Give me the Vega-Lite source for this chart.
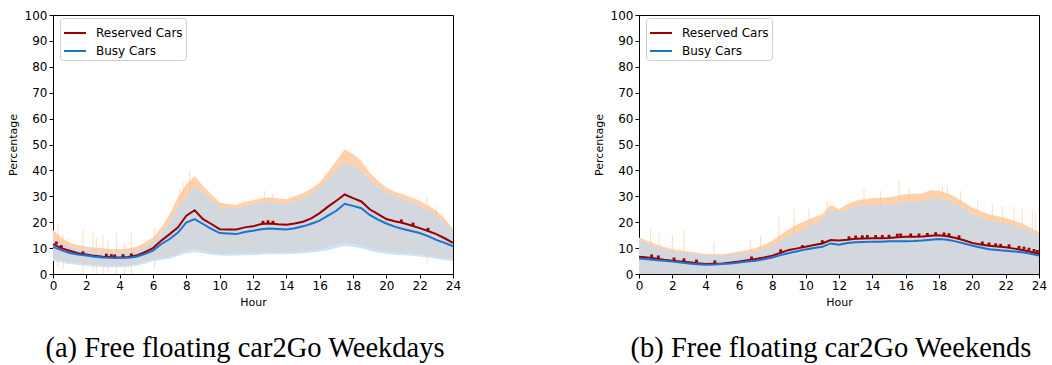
{
"$schema": "https://vega.github.io/schema/vega-lite/v6.json",
"padding": {"left": 6, "top": 8, "right": 0, "bottom": 0},
"background": "white",
"datasets": {
"wd": [
{"h":0,"resM":11.5,"busyM":10.5,"resHi":17.0,"busyHi":13.5,"resLo":5.8,"busyLo":5.0},
{"h":0.5,"resM":10.0,"busyM":9.2,"resHi":14.0,"busyHi":11.8,"resLo":5.2,"busyLo":4.4},
{"h":1,"resM":9.0,"busyM":8.1,"resHi":12.2,"busyHi":10.5,"resLo":4.6,"busyLo":3.9},
{"h":1.5,"resM":8.0,"busyM":7.5,"resHi":11.2,"busyHi":9.8,"resLo":4.2,"busyLo":3.5},
{"h":2,"resM":7.5,"busyM":7.1,"resHi":10.5,"busyHi":9.3,"resLo":3.9,"busyLo":3.2},
{"h":2.5,"resM":7.0,"busyM":6.7,"resHi":10.1,"busyHi":8.8,"resLo":3.6,"busyLo":2.9},
{"h":3,"resM":6.7,"busyM":6.4,"resHi":9.9,"busyHi":8.4,"resLo":3.4,"busyLo":2.7},
{"h":3.5,"resM":6.5,"busyM":6.3,"resHi":9.7,"busyHi":8.2,"resLo":3.2,"busyLo":2.6},
{"h":4,"resM":6.4,"busyM":6.2,"resHi":9.6,"busyHi":8.1,"resLo":3.2,"busyLo":2.6},
{"h":4.5,"resM":6.6,"busyM":6.3,"resHi":9.8,"busyHi":8.3,"resLo":3.4,"busyLo":2.8},
{"h":5,"resM":7.1,"busyM":6.7,"resHi":10.5,"busyHi":9.0,"resLo":3.9,"busyLo":3.2},
{"h":5.5,"resM":8.4,"busyM":7.7,"resHi":12.2,"busyHi":10.4,"resLo":4.8,"busyLo":4.0},
{"h":6,"resM":10.0,"busyM":9.0,"resHi":14.1,"busyHi":12.2,"resLo":5.8,"busyLo":5.0},
{"h":6.5,"resM":12.9,"busyM":11.6,"resHi":18.0,"busyHi":15.4,"resLo":6.2,"busyLo":5.4},
{"h":7,"resM":15.4,"busyM":13.5,"resHi":23.1,"busyHi":19.9,"resLo":6.7,"busyLo":5.9},
{"h":7.5,"resM":18.0,"busyM":16.0,"resHi":29.6,"busyHi":25.7,"resLo":7.8,"busyLo":7.0},
{"h":8,"resM":22.5,"busyM":19.9,"resHi":34.7,"busyHi":29.6,"resLo":9.0,"busyLo":8.0},
{"h":8.5,"resM":24.6,"busyM":21.2,"resHi":37.8,"busyHi":33.2,"resLo":9.6,"busyLo":8.4},
{"h":9,"resM":21.2,"busyM":19.3,"resHi":34.0,"busyHi":31.5,"resLo":9.0,"busyLo":8.0},
{"h":9.5,"resM":19.3,"busyM":17.4,"resHi":30.8,"busyHi":28.3,"resLo":8.2,"busyLo":7.4},
{"h":10,"resM":17.3,"busyM":15.8,"resHi":27.6,"busyHi":25.7,"resLo":7.7,"busyLo":7.1},
{"h":10.5,"resM":17.2,"busyM":15.6,"resHi":27.0,"busyHi":25.3,"resLo":7.7,"busyLo":7.0},
{"h":11,"resM":17.2,"busyM":15.4,"resHi":26.7,"busyHi":25.1,"resLo":7.8,"busyLo":7.1},
{"h":11.5,"resM":18.0,"busyM":16.2,"resHi":27.9,"busyHi":26.0,"resLo":7.9,"busyLo":7.2},
{"h":12,"resM":18.4,"busyM":16.7,"resHi":28.5,"busyHi":27.0,"resLo":8.0,"busyLo":7.3},
{"h":12.5,"resM":19.3,"busyM":17.3,"resHi":29.2,"busyHi":27.4,"resLo":8.2,"busyLo":7.5},
{"h":13,"resM":19.5,"busyM":17.6,"resHi":29.6,"busyHi":27.6,"resLo":8.3,"busyLo":7.6},
{"h":13.5,"resM":19.2,"busyM":17.4,"resHi":29.2,"busyHi":27.2,"resLo":8.3,"busyLo":7.6},
{"h":14,"resM":19.0,"busyM":17.2,"resHi":28.9,"busyHi":26.7,"resLo":8.4,"busyLo":7.7},
{"h":14.5,"resM":19.5,"busyM":17.7,"resHi":30.0,"busyHi":27.8,"resLo":8.6,"busyLo":7.8},
{"h":15,"resM":20.2,"busyM":18.4,"resHi":31.2,"busyHi":28.9,"resLo":8.9,"busyLo":8.0},
{"h":15.5,"resM":21.5,"busyM":19.4,"resHi":33.0,"busyHi":31.0,"resLo":9.2,"busyLo":8.3},
{"h":16,"resM":23.5,"busyM":20.6,"resHi":35.3,"busyHi":33.4,"resLo":9.6,"busyLo":8.6},
{"h":16.5,"resM":26.0,"busyM":22.5,"resHi":39.5,"busyHi":36.5,"resLo":10.4,"busyLo":9.2},
{"h":17,"resM":28.3,"busyM":24.4,"resHi":43.7,"busyHi":39.8,"resLo":11.2,"busyLo":10.0},
{"h":17.5,"resM":30.7,"busyM":27.1,"resHi":48.2,"busyHi":43.0,"resLo":12.2,"busyLo":10.9},
{"h":18,"resM":29.3,"busyM":26.3,"resHi":46.3,"busyHi":41.8,"resLo":11.8,"busyLo":10.5},
{"h":18.5,"resM":28.0,"busyM":25.4,"resHi":43.7,"busyHi":39.8,"resLo":11.0,"busyLo":9.9},
{"h":19,"resM":25.0,"busyM":22.8,"resHi":39.2,"busyHi":36.0,"resLo":10.0,"busyLo":9.0},
{"h":19.5,"resM":23.1,"busyM":21.0,"resHi":36.0,"busyHi":33.5,"resLo":9.3,"busyLo":8.3},
{"h":20,"resM":21.2,"busyM":19.5,"resHi":33.4,"busyHi":31.5,"resLo":8.7,"busyLo":7.7},
{"h":20.5,"resM":20.4,"busyM":18.3,"resHi":31.8,"busyHi":30.0,"resLo":8.3,"busyLo":7.4},
{"h":21,"resM":19.7,"busyM":17.4,"resHi":30.8,"busyHi":28.9,"resLo":8.0,"busyLo":7.2},
{"h":21.5,"resM":18.7,"busyM":16.6,"resHi":29.5,"busyHi":27.6,"resLo":7.9,"busyLo":7.0},
{"h":22,"resM":17.7,"busyM":15.8,"resHi":28.3,"busyHi":26.3,"resLo":7.7,"busyLo":6.8},
{"h":22.5,"resM":16.6,"busyM":14.6,"resHi":26.5,"busyHi":24.5,"resLo":7.2,"busyLo":6.4},
{"h":23,"resM":15.4,"busyM":13.2,"resHi":24.4,"busyHi":22.5,"resLo":6.7,"busyLo":5.9},
{"h":23.5,"resM":13.8,"busyM":12.0,"resHi":21.5,"busyHi":19.8,"resLo":6.2,"busyLo":5.4},
{"h":24,"resM":12.0,"busyM":10.7,"resHi":17.4,"busyHi":16.7,"resLo":5.8,"busyLo":4.9}
],
"we": [
{"h":0,"resM":6.7,"busyM":6.0,"resHi":14.1,"busyHi":12.9,"resLo":0,"busyLo":0},
{"h":0.5,"resM":6.4,"busyM":5.7,"resHi":12.8,"busyHi":11.7,"resLo":0,"busyLo":0},
{"h":1,"resM":6.0,"busyM":5.4,"resHi":11.6,"busyHi":10.5,"resLo":0,"busyLo":0},
{"h":1.5,"resM":5.5,"busyM":5.1,"resHi":10.5,"busyHi":9.6,"resLo":0,"busyLo":0},
{"h":2,"resM":5.1,"busyM":4.8,"resHi":9.6,"busyHi":8.7,"resLo":0,"busyLo":0},
{"h":2.5,"resM":4.8,"busyM":4.4,"resHi":9.1,"busyHi":8.3,"resLo":0,"busyLo":0},
{"h":3,"resM":4.5,"busyM":4.1,"resHi":8.7,"busyHi":8.0,"resLo":0,"busyLo":0},
{"h":3.5,"resM":4.2,"busyM":3.8,"resHi":8.2,"busyHi":7.6,"resLo":0,"busyLo":0},
{"h":4,"resM":3.9,"busyM":3.6,"resHi":7.7,"busyHi":7.3,"resLo":0,"busyLo":0},
{"h":4.5,"resM":4.0,"busyM":3.7,"resHi":7.6,"busyHi":7.1,"resLo":0,"busyLo":0},
{"h":5,"resM":4.1,"busyM":3.9,"resHi":7.7,"busyHi":7.1,"resLo":0,"busyLo":0},
{"h":5.5,"resM":4.4,"busyM":4.1,"resHi":8.1,"busyHi":7.4,"resLo":0,"busyLo":0},
{"h":6,"resM":4.8,"busyM":4.4,"resHi":8.7,"busyHi":7.7,"resLo":0,"busyLo":0},
{"h":6.5,"resM":5.3,"busyM":4.8,"resHi":9.3,"busyHi":8.2,"resLo":0,"busyLo":0},
{"h":7,"resM":5.8,"busyM":5.1,"resHi":10.0,"busyHi":8.7,"resLo":0,"busyLo":0},
{"h":7.5,"resM":6.4,"busyM":5.7,"resHi":11.2,"busyHi":9.6,"resLo":0,"busyLo":0},
{"h":8,"resM":7.1,"busyM":6.4,"resHi":12.9,"busyHi":10.9,"resLo":0,"busyLo":0},
{"h":8.5,"resM":8.2,"busyM":7.3,"resHi":15.2,"busyHi":12.8,"resLo":0,"busyLo":0},
{"h":9,"resM":9.3,"busyM":8.1,"resHi":17.4,"busyHi":14.8,"resLo":0,"busyLo":0},
{"h":9.5,"resM":9.9,"busyM":8.8,"resHi":19.2,"busyHi":16.3,"resLo":0,"busyLo":0},
{"h":10,"resM":10.5,"busyM":9.5,"resHi":20.6,"busyHi":17.7,"resLo":0,"busyLo":0},
{"h":10.5,"resM":11.2,"busyM":10.0,"resHi":21.9,"busyHi":19.2,"resLo":0,"busyLo":0},
{"h":11,"resM":11.8,"busyM":10.5,"resHi":23.1,"busyHi":20.6,"resLo":0,"busyLo":0},
{"h":11.5,"resM":13.1,"busyM":11.8,"resHi":26.7,"busyHi":25.1,"resLo":0,"busyLo":0},
{"h":12,"resM":12.9,"busyM":11.3,"resHi":25.1,"busyHi":23.7,"resLo":0,"busyLo":0},
{"h":12.5,"resM":13.2,"busyM":12.0,"resHi":26.9,"busyHi":25.0,"resLo":0,"busyLo":0},
{"h":13,"resM":13.6,"busyM":12.3,"resHi":28.3,"busyHi":26.0,"resLo":0,"busyLo":0},
{"h":13.5,"resM":13.7,"busyM":12.4,"resHi":28.9,"busyHi":26.4,"resLo":0,"busyLo":0},
{"h":14,"resM":13.8,"busyM":12.5,"resHi":29.3,"busyHi":26.6,"resLo":0,"busyLo":0},
{"h":14.5,"resM":13.8,"busyM":12.5,"resHi":29.4,"busyHi":26.6,"resLo":0,"busyLo":0},
{"h":15,"resM":13.9,"busyM":12.6,"resHi":29.6,"busyHi":26.7,"resLo":0,"busyLo":0},
{"h":15.5,"resM":14.2,"busyM":12.6,"resHi":30.2,"busyHi":27.2,"resLo":0,"busyLo":0},
{"h":16,"resM":14.4,"busyM":12.6,"resHi":30.8,"busyHi":27.6,"resLo":0,"busyLo":0},
{"h":16.5,"resM":14.4,"busyM":12.7,"resHi":31.0,"busyHi":28.0,"resLo":0,"busyLo":0},
{"h":17,"resM":14.5,"busyM":12.9,"resHi":31.1,"busyHi":28.3,"resLo":0,"busyLo":0},
{"h":17.5,"resM":14.8,"busyM":13.2,"resHi":32.4,"busyHi":28.9,"resLo":0,"busyLo":0},
{"h":18,"resM":15.0,"busyM":13.5,"resHi":32.1,"busyHi":29.3,"resLo":0,"busyLo":0},
{"h":18.5,"resM":14.6,"busyM":13.2,"resHi":31.2,"busyHi":28.4,"resLo":0,"busyLo":0},
{"h":19,"resM":13.9,"busyM":12.6,"resHi":29.6,"busyHi":27.0,"resLo":0,"busyLo":0},
{"h":19.5,"resM":13.0,"busyM":11.8,"resHi":27.6,"busyHi":25.0,"resLo":0,"busyLo":0},
{"h":20,"resM":12.0,"busyM":10.9,"resHi":25.7,"busyHi":23.1,"resLo":0,"busyLo":0},
{"h":20.5,"resM":11.4,"busyM":10.2,"resHi":24.3,"busyHi":21.8,"resLo":0,"busyLo":0},
{"h":21,"resM":10.9,"busyM":9.6,"resHi":23.1,"busyHi":20.6,"resLo":0,"busyLo":0},
{"h":21.5,"resM":10.6,"busyM":9.3,"resHi":22.3,"busyHi":20.0,"resLo":0,"busyLo":0},
{"h":22,"resM":10.3,"busyM":9.0,"resHi":21.6,"busyHi":19.5,"resLo":0,"busyLo":0},
{"h":22.5,"resM":9.8,"busyM":8.7,"resHi":20.6,"busyHi":18.6,"resLo":0,"busyLo":0},
{"h":23,"resM":9.3,"busyM":8.4,"resHi":19.5,"busyHi":17.7,"resLo":0,"busyLo":0},
{"h":23.5,"resM":8.6,"busyM":7.8,"resHi":17.9,"busyHi":16.3,"resLo":0,"busyLo":0},
{"h":24,"resM":7.7,"busyM":7.1,"resHi":16.1,"busyHi":14.8,"resLo":0,"busyLo":0}
],
"spkA": [
{"h":0.3,"lo":3,"hi":19},{"h":0.6,"lo":2,"hi":15},{"h":0.9,"lo":4,"hi":14},{"h":1.8,"lo":0,"hi":17},
{"h":2.4,"lo":1,"hi":16},{"h":2.6,"lo":0,"hi":14},{"h":3.0,"lo":0,"hi":15},{"h":3.3,"lo":1,"hi":13},
{"h":3.8,"lo":0,"hi":16},{"h":4.3,"lo":0,"hi":12},{"h":4.7,"lo":0,"hi":16},{"h":6.1,"lo":2,"hi":18},
{"h":7.6,"lo":20,"hi":33},{"h":7.8,"lo":25,"hi":36},{"h":8.2,"lo":30,"hi":40},
{"h":12.7,"lo":24,"hi":32},{"h":13.2,"lo":24,"hi":31},{"h":22.45,"lo":4,"hi":30},{"h":23.0,"lo":6,"hi":26}
],
"spkB": [
{"h":0.7,"lo":10,"hi":17},{"h":1.2,"lo":9,"hi":16},{"h":2.0,"lo":8,"hi":15},{"h":2.7,"lo":8,"hi":17},
{"h":4.5,"lo":6,"hi":12},{"h":6.7,"lo":8,"hi":13},{"h":7.3,"lo":9,"hi":15},{"h":8.4,"lo":12,"hi":22},
{"h":9.3,"lo":16,"hi":25},{"h":10.2,"lo":19,"hi":25},{"h":11.3,"lo":22,"hi":28},{"h":13.5,"lo":27,"hi":33},
{"h":14.5,"lo":27,"hi":32},{"h":15.6,"lo":28,"hi":36},{"h":16.2,"lo":29,"hi":33},{"h":18.2,"lo":30,"hi":34},
{"h":18.5,"lo":30,"hi":34},{"h":19.3,"lo":27,"hi":32},{"h":20.3,"lo":24,"hi":28},{"h":21.2,"lo":21,"hi":27},
{"h":21.8,"lo":20,"hi":26},{"h":22.5,"lo":19,"hi":26},{"h":23.0,"lo":18,"hi":25},{"h":23.6,"lo":16,"hi":24},{"h":23.8,"lo":15,"hi":23}
],
"bumpA": [
{"h":0.2,"v":12.0},{"h":0.5,"v":10.6},{"h":1.8,"v":8.2},{"h":3.2,"v":7.3},{"h":3.5,"v":7.1},{"h":3.7,"v":7.0},
{"h":4.2,"v":7.1},{"h":4.7,"v":7.4},{"h":12.6,"v":20.0},{"h":12.9,"v":20.2},{"h":13.2,"v":20.0},{"h":20.9,"v":20.5},{"h":21.6,"v":19.3},{"h":22.5,"v":17.3}
],
"bumpB": [
{"h":0.76,"v":7.0},{"h":1.16,"v":6.6},{"h":2.1,"v":5.8},{"h":2.7,"v":5.5},{"h":3.45,"v":5.0},{"h":4.55,"v":4.7},{"h":6.75,"v":6.2},
{"h":8.5,"v":9.0},{"h":9.8,"v":10.6},{"h":11.0,"v":12.5},{"h":12.6,"v":14.0},{"h":13.0,"v":14.3},{"h":13.4,"v":14.4},{"h":13.7,"v":14.5},
{"h":14.2,"v":14.5},{"h":14.6,"v":14.5},{"h":15.0,"v":14.6},{"h":15.5,"v":15.0},{"h":15.7,"v":15.1},{"h":16.3,"v":15.1},{"h":16.8,"v":15.1},
{"h":17.3,"v":15.3},{"h":17.8,"v":15.6},{"h":18.3,"v":15.5},{"h":18.6,"v":15.2},{"h":19.2,"v":14.4},{"h":20.6,"v":12.0},{"h":21.0,"v":11.6},
{"h":21.4,"v":11.3},{"h":21.7,"v":11.1},{"h":22.2,"v":10.9},{"h":22.8,"v":10.3},{"h":23.1,"v":10.0},{"h":23.4,"v":9.6},{"h":23.7,"v":9.1},{"h":23.9,"v":8.7}
]
},
"config": {
"font": "DejaVu Sans",
"view": {"stroke": "black", "strokeWidth": 1},
"axis": {"grid": false, "domainColor": "black", "domainWidth": 1, "tickColor": "black", "tickSize": 4, "labelColor": "black", "titleColor": "black", "labelFont": "DejaVu Sans", "titleFont": "DejaVu Sans", "labelFontSize": 12, "titleFontSize": 11, "titleFontWeight": "normal", "labelPadding": 2, "labelOverlap": false, "labelSeparation": -60, "labelBound": false},
"axisX": {"labelFlush": false, "titlePadding": 5},
"axisY": {"titlePadding": 6},
"legend": {"orient": "none", "legendX": 7, "legendY": 3, "title": null, "symbolType": "stroke", "symbolSize": 484, "symbolStrokeWidth": 2, "labelFont": "DejaVu Sans", "labelFontSize": 12, "labelColor": "black", "labelOffset": 9, "strokeColor": "#cccccc", "fillColor": "white", "cornerRadius": 3, "padding": 3, "rowPadding": -4, "labelLimit": 200},
"title": {"font": "Liberation Serif", "fontSize": 28.5, "fontWeight": "normal", "color": "black"}
},
"resolve": {"scale": {"color": "independent"}, "legend": {"color": "independent"}},
"spacing": 130,
"hconcat": [
{
"width": 400, "height": 259,
"title": {"text": "(a) Free floating car2Go Weekdays", "orient": "bottom", "anchor": "middle", "frame": "group", "dx": -8, "offset": 27},
"encoding": {
 "x": {"field": "h", "type": "quantitative", "scale": {"domain": [0, 24], "nice": false}, "axis": {"values": [0,2,4,6,8,10,12,14,16,18,20,22,24], "tickCount": 13, "labelOverlap": false, "labelSeparation": -60, "title": "Hour"}}
},
"layer": [
{"data": {"name": "wd"}, "mark": {"type": "area", "color": "#ffd2ad", "opacity": 1},
 "encoding": {
 "y": {"field": "resHi", "type": "quantitative", "scale": {"domain": [0, 100], "nice": false}, "axis": {"values": [0,10,20,30,40,50,60,70,80,90,100], "tickCount": 11, "labelOverlap": false, "labelSeparation": -60, "title": "Percentage"}},
 "y2": {"field": "resLo"}}},
{"data": {"name": "wd"}, "mark": {"type": "area", "color": "#cde4fa"},
 "encoding": {"y": {"field": "busyHi", "type": "quantitative"}, "y2": {"field": "busyLo"}}},
{"data": {"name": "spkA"}, "mark": {"type": "rule", "color": "#ffc08a", "opacity": 0.55, "strokeWidth": 1},
 "encoding": {"y": {"field": "lo", "type": "quantitative"}, "y2": {"field": "hi"}}},
{"data": {"name": "wd"}, "mark": {"type": "area", "color": "#d3d8de"},
 "encoding": {"y": {"field": "busyHi", "type": "quantitative"}, "y2": {"field": "resLo"}}},
{"data": {"name": "wd"}, "mark": {"type": "line", "strokeWidth": 2},
 "encoding": {"y": {"field": "resM", "type": "quantitative"},
 "color": {"datum": "Reserved Cars", "scale": {"domain": ["Reserved Cars", "Busy Cars"], "range": ["#990000", "#1a73d0"]}}}},
{"data": {"name": "wd"}, "mark": {"type": "line", "strokeWidth": 2},
 "encoding": {"y": {"field": "busyM", "type": "quantitative"}, "color": {"datum": "Busy Cars"}}},
{"data": {"name": "bumpA"}, "mark": {"type": "point", "shape": "square", "filled": true, "size": 8, "color": "#990000", "opacity": 1},
 "encoding": {"y": {"field": "v", "type": "quantitative"}}}
]
},
{
"width": 400, "height": 259,
"title": {"text": "(b) Free floating car2Go Weekends", "orient": "bottom", "anchor": "middle", "frame": "group", "dx": -8, "offset": 27},
"encoding": {
 "x": {"field": "h", "type": "quantitative", "scale": {"domain": [0, 24], "nice": false}, "axis": {"values": [0,2,4,6,8,10,12,14,16,18,20,22,24], "tickCount": 13, "labelOverlap": false, "labelSeparation": -60, "title": "Hour"}}
},
"layer": [
{"data": {"name": "we"}, "mark": {"type": "area", "color": "#ffd2ad", "opacity": 1},
 "encoding": {
 "y": {"field": "resHi", "type": "quantitative", "scale": {"domain": [0, 100], "nice": false}, "axis": {"values": [0,10,20,30,40,50,60,70,80,90,100], "tickCount": 11, "labelOverlap": false, "labelSeparation": -60, "title": "Percentage"}},
 "y2": {"field": "resLo"}}},
{"data": {"name": "spkB"}, "mark": {"type": "rule", "color": "#ffc08a", "opacity": 0.55, "strokeWidth": 1},
 "encoding": {"y": {"field": "lo", "type": "quantitative"}, "y2": {"field": "hi"}}},
{"data": {"name": "we"}, "mark": {"type": "area", "color": "#d3d8de"},
 "encoding": {"y": {"field": "busyHi", "type": "quantitative"}, "y2": {"field": "resLo"}}},
{"data": {"name": "we"}, "mark": {"type": "line", "strokeWidth": 2},
 "encoding": {"y": {"field": "resM", "type": "quantitative"},
 "color": {"datum": "Reserved Cars", "scale": {"domain": ["Reserved Cars", "Busy Cars"], "range": ["#990000", "#1a73d0"]}}}},
{"data": {"name": "we"}, "mark": {"type": "line", "strokeWidth": 2},
 "encoding": {"y": {"field": "busyM", "type": "quantitative"}, "color": {"datum": "Busy Cars"}}},
{"data": {"name": "bumpB"}, "mark": {"type": "point", "shape": "square", "filled": true, "size": 8, "color": "#990000", "opacity": 1},
 "encoding": {"y": {"field": "v", "type": "quantitative"}}}
]
}
]
}
